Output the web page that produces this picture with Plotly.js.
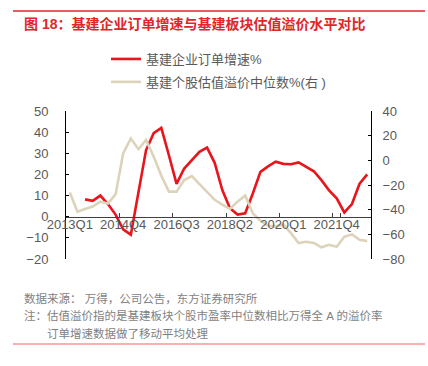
<!DOCTYPE html>
<html>
<head>
<meta charset="utf-8">
<script src="https://cdn.plot.ly/plotly-3.0.1.min.js"></script>
<style>
  html, body { margin: 0; padding: 0; background: #ffffff; }
  #chart { width: 428px; height: 366px; }
</style>
</head>
<body>
<div id="chart"></div>
<script>
// ---- data ----
const quarters = [
  "2013Q1","2013Q2","2013Q3","2013Q4","2014Q1","2014Q2","2014Q3","2014Q4",
  "2015Q1","2015Q2","2015Q3","2015Q4","2016Q1","2016Q2","2016Q3","2016Q4",
  "2017Q1","2017Q2","2017Q3","2017Q4","2018Q1","2018Q2","2018Q3","2018Q4",
  "2019Q1","2019Q2","2019Q3","2019Q4","2020Q1","2020Q2","2020Q3","2020Q4",
  "2021Q1","2021Q2","2021Q3","2021Q4","2022Q1","2022Q2","2022Q3","2022Q4"
];
// 基建企业订单增速% (left axis)
const orderGrowth = [
  null, null, 8.2, 7.5, 10, 6, 1, -6, -8.5, 11,
  31.5, 39.5, 42, 29, 15.5, 22.8, 26.8, 30.7, 32.7, 25.5,
  12.6, 4, 1, 1.6, 11, 21.2, 23.8, 26, 25, 24.8,
  25.7, 23.6, 21.5, 17.3, 12.5, 8.7, 2, 6, 15.6, 20
];
// 基建个股估值溢价中位数% (right axis)
const valuationPremium = [
  -26, -41.6, -39.5, -37.5, -33.5, -35, -27.6, 5.6, 17.7, 9,
  16.5, 3, -12.5, -25.4, -25.4, -16, -12.8, -19, -26, -32,
  -36, -39.4, -33.5, -28.5, -43, -49, -53, -53.5, -52, -59,
  -67, -66, -67, -70.5, -68.5, -70, -62, -60, -64.5, -65.5
];
const xTickLabels = ["2013Q1","2014Q4","2016Q3","2018Q2","2020Q1","2021Q4"];
const seriesNames = ["基建企业订单增速%", "基建个股估值溢价中位数%(右 )"];
const titleText = "图 18：基建企业订单增速与基建板块估值溢价水平对比";
const noteLines = [
  "数据来源： 万得，公司公告，东方证券研究所",
  "注：估值溢价指的是基建板块个股市盈率中位数相比万得全 A 的溢价率",
  "订单增速数据做了移动平均处理"
];

// ---- layout geometry ----
const W = 428, H = 366;
const M = { l: 66, r: 57, t: 111, b: 107 };
const PW = W - M.l - M.r, PH = H - M.t - M.b;
const px = x => (x - M.l) / PW;
const py = y => (H - M.b - y) / PH;

const FONT = "'Liberation Sans', Arial, 'Noto Sans CJK SC', sans-serif";
const GRAY = "#595959";

const traces = [
  {
    x: quarters, y: orderGrowth, name: seriesNames[0], type: "scatter", mode: "lines",
    line: { color: "#e8151c", width: 2.6 }, yaxis: "y", legendgroup: "a",
    connectgaps: false, hoverinfo: "skip"
  },
  {
    x: quarters, y: valuationPremium, name: seriesNames[1], type: "scatter", mode: "lines",
    line: { color: "#ddd3ba", width: 2.6 }, yaxis: "y2", legendgroup: "b",
    hoverinfo: "skip"
  }
];

const axisCommon = {
  showgrid: false, zeroline: false, showline: true, linecolor: "#000000", linewidth: 1,
  ticks: "inside", ticklen: 3, tickcolor: "#000000", tickwidth: 1,
  tickfont: { family: FONT, size: 13, color: GRAY }, fixedrange: true
};

const layout = {
  width: W, height: H,
  margin: M,
  paper_bgcolor: "#ffffff", plot_bgcolor: "rgba(0,0,0,0)",
  font: { family: FONT, color: GRAY, size: 13 },
  showlegend: true,
  legend: {
    x: px(106), y: py(44), xanchor: "left", yanchor: "top",
    orientation: "v", traceorder: "grouped", tracegroupgap: 3,
    font: { family: FONT, size: 13, color: GRAY }, bgcolor: "rgba(0,0,0,0)",
    itemwidth: 30
  },
  xaxis: {
    type: "category", range: [-0.5, 39.5],
    anchor: "free", position: 2 / 7,
    showgrid: false, zeroline: false, showline: true, linecolor: "#404040", linewidth: 1.5,
    ticks: "inside", ticklen: 4, tickcolor: "#404040", tickwidth: 1,
    tickson: "boundaries",
    tickmode: "array", tickvals: xTickLabels, ticktext: xTickLabels,
    tickangle: 0, ticklabelstandoff: -5,
    tickfont: { family: FONT, size: 13, color: GRAY }, fixedrange: true
  },
  yaxis: Object.assign({}, axisCommon, {
    range: [-20, 50], dtick: 10, tick0: 0, side: "left", ticklabelstandoff: 14
  }),
  yaxis2: Object.assign({}, axisCommon, {
    range: [-80, 40], dtick: 20, tick0: 0, side: "right", overlaying: "y", ticklabelstandoff: 8
  }),
  shapes: [
    { type: "line", xref: "paper", yref: "paper", x0: px(13), x1: px(425), y0: py(11), y1: py(11),
      line: { color: "#e0262a", width: 1.3 } },
    { type: "line", xref: "paper", yref: "paper", x0: px(13), x1: px(425), y0: py(344), y1: py(344),
      line: { color: "#f06060", width: 1 } }
  ],
  annotations: [
    { text: "<b>" + titleText + "</b>", xref: "paper", yref: "paper", x: px(22), y: py(23.5),
      xanchor: "left", yanchor: "middle", showarrow: false,
      font: { family: FONT, size: 14, color: "#e0262a" } },
    { text: noteLines[0], xref: "paper", yref: "paper", x: px(22), y: py(298),
      xanchor: "left", yanchor: "middle", showarrow: false,
      font: { family: FONT, size: 11.5, color: "#7f7f7f" } },
    { text: noteLines[1], xref: "paper", yref: "paper", x: px(22), y: py(315.5),
      xanchor: "left", yanchor: "middle", showarrow: false,
      font: { family: FONT, size: 11.5, color: "#7f7f7f" } },
    { text: noteLines[2], xref: "paper", yref: "paper", x: px(45), y: py(333),
      xanchor: "left", yanchor: "middle", showarrow: false,
      font: { family: FONT, size: 11.5, color: "#7f7f7f" } }
  ]
};

Plotly.newPlot("chart", traces, layout, { displayModeBar: false, staticPlot: true });
</script>
</body>
</html>
